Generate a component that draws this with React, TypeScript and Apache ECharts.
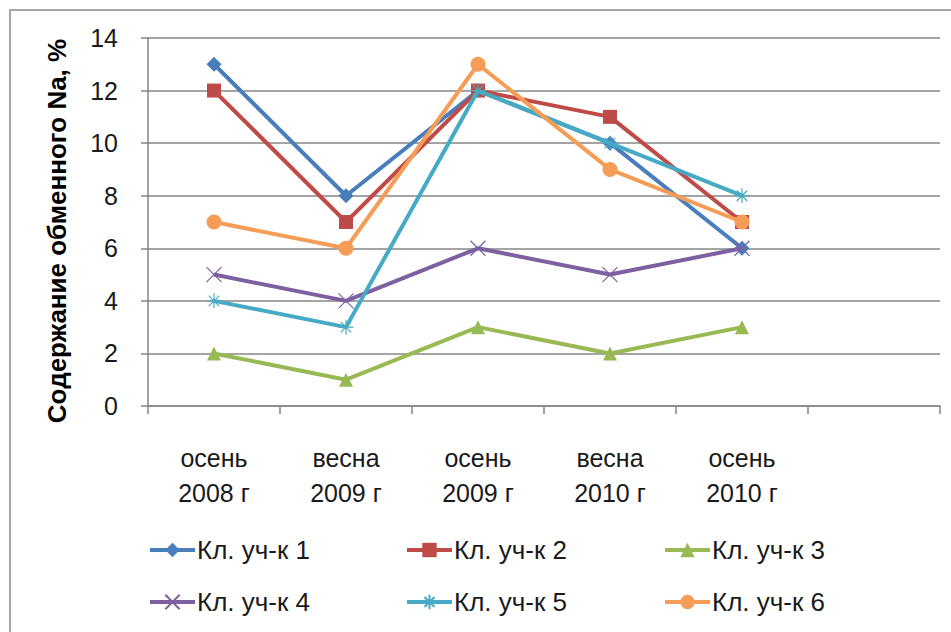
import React, { useEffect, useRef } from "react";
import * as echarts from "echarts";

const categories = ["осень\n2008 г", "весна\n2009 г", "осень\n2009 г", "весна\n2010 г", "осень\n2010 г", ""];
const seriesNames = ["Кл. уч-к 1", "Кл. уч-к 2", "Кл. уч-к 3", "Кл. уч-к 4", "Кл. уч-к 5", "Кл. уч-к 6"];
const plot1 = [13, 8, 12, 10, 6];
const plot2 = [12, 7, 12, 11, 7];
const plot3 = [2, 1, 3, 2, 3];
const plot4 = [5, 4, 6, 5, 6];
const plot5 = [4, 3, 12, 10, 8];
const plot6 = [7, 6, 13, 9, 7];
const yTicks = [0, 2, 4, 6, 8, 10, 12, 14];

const colors = ["#4A7EBB", "#BE4B48", "#98B954", "#7D60A0", "#46AAC5", "#F59D56"];
const starPath =
  "path://M10,0 L10,20 M0,10 L20,10 M3,3 L17,17 M17,3 L3,17";
const crossPath = "path://M2,2 L18,18 M18,2 L2,18";
const symbols = ["diamond", "rect", "triangle", crossPath, starPath, "circle"];
const symbolSizes = [15, 14, 14, 15, 15, 15];
const FONT = "'Liberation Sans', Arial, sans-serif";

export default function App() {
  const ref = useRef<HTMLDivElement>(null);
  useEffect(() => {
    if (!ref.current) return;
    const chart = echarts.init(ref.current, undefined, { renderer: "svg" });
    const data = [plot1, plot2, plot3, plot4, plot5, plot6];
    const isStroke = (i: number) => i === 3 || i === 4;
    const series = data.map((d, i) => ({
      name: seriesNames[i],
      type: "line",
      data: d,
      symbol: symbols[i],
      symbolSize: symbolSizes[i],
      showAllSymbol: true,
      lineStyle: { color: colors[i], width: 4 },
      itemStyle: isStroke(i)
        ? { color: colors[i], borderColor: colors[i], borderWidth: 1.2 }
        : { color: colors[i], borderColor: colors[i], borderWidth: 0 },
      z: 2 + i,
    }));
    const legendPos = [
      [148, 537], [405, 537], [663, 537],
      [148, 589], [405, 589], [663, 589],
    ];
    chart.setOption({
      animation: false,
      backgroundColor: "#ffffff",
      grid: { left: 148, right: 11, top: 38, bottom: 226, containLabel: false },
      xAxis: {
        type: "category",
        data: categories,
        boundaryGap: true,
        axisLine: { lineStyle: { color: "#868686", width: 1.5 } },
        axisTick: { show: true, length: 8, interval: 0, lineStyle: { color: "#868686", width: 1.5 } },
        axisLabel: {
          interval: 0,
          margin: 34,
          fontSize: 25,
          lineHeight: 35,
          color: "#1a1a1a",
          fontFamily: FONT,
        },
      },
      yAxis: {
        type: "value",
        min: 0,
        max: 14,
        interval: 2,
        name: "Содержание обменного Na, %",
        nameLocation: "middle",
        nameRotate: 90,
        nameGap: 78,
        nameTextStyle: {
          fontSize: 26,
          fontWeight: "bold",
          color: "#000",
          fontFamily: FONT,
          padding: [0, 18, 0, 0],
        },
        axisLine: { show: true, lineStyle: { color: "#868686", width: 1.5 } },
        axisTick: { show: true, length: 7, lineStyle: { color: "#868686", width: 1.5 } },
        axisLabel: {
          margin: 30,
          fontSize: 25,
          color: "#1a1a1a",
          fontFamily: FONT,
          formatter: (v: number) => (yTicks.includes(v) ? String(v) : ""),
        },
        splitLine: { lineStyle: { color: "#868686", width: 1.5 } },
      },
      legend: seriesNames.map((n, i) => ({
        data: [n],
        left: legendPos[i][0],
        top: legendPos[i][1],
        itemWidth: 45,
        itemHeight: 18,
        itemGap: 0,
        padding: 0,
        selectedMode: false,
        lineStyle: { width: 4 },
        textStyle: { fontSize: 26, color: "#1a1a1a", fontFamily: FONT, padding: [0, 0, 0, -3] },
      })),
      graphic: [
        {
          type: "rect",
          shape: { x: 10, y: 10, width: 960, height: 660 },
          style: { fill: "none", stroke: "#8a8a8a", lineWidth: 1.5 },
          silent: true,
          z: 0,
        },
      ],
      series,
    });
    return () => chart.dispose();
  }, []);
  return (
    <div
      ref={ref}
      style={{ position: "absolute", left: 0, top: 0, width: 951, height: 632 }}
    />
  );
}
